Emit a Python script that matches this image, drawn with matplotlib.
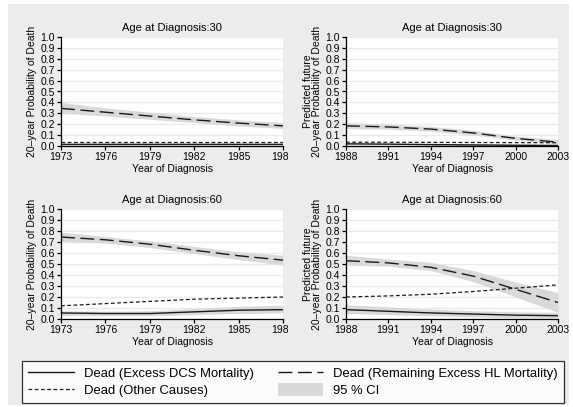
import numpy as np
import matplotlib
matplotlib.use('Agg')
import matplotlib.pyplot as plt
from matplotlib.patches import Rectangle, Patch
from matplotlib.lines import Line2D

plt.rcParams['font.family'] = ['Liberation Sans', 'DejaVu Sans']

# ===== data =====
years_early = [1973, 1976, 1979, 1982, 1985, 1988]
years_late = [1988, 1991, 1994, 1997, 2000, 2003]

# age 30, 1973-1988
hl30_e = [0.345, 0.310, 0.275, 0.240, 0.210, 0.185]
hl30_e_lo = [0.300, 0.275, 0.245, 0.215, 0.185, 0.160]
hl30_e_hi = [0.400, 0.350, 0.310, 0.270, 0.240, 0.215]
dcs30_e = [0.020, 0.020, 0.020, 0.020, 0.020, 0.020]
dcs30_e_lo = [0.012, 0.012, 0.012, 0.012, 0.012, 0.012]
dcs30_e_hi = [0.030, 0.030, 0.030, 0.030, 0.030, 0.030]
oth30_e = [0.035, 0.035, 0.035, 0.035, 0.035, 0.035]

# age 30, 1988-2003
hl30_l = [0.185, 0.175, 0.155, 0.120, 0.070, 0.035]
hl30_l_lo = [0.160, 0.155, 0.135, 0.100, 0.055, 0.020]
hl30_l_hi = [0.215, 0.200, 0.180, 0.145, 0.090, 0.060]
dcs30_l = [0.020, 0.017, 0.013, 0.010, 0.007, 0.005]
dcs30_l_lo = [0.012, 0.010, 0.007, 0.004, 0.002, 0.001]
dcs30_l_hi = [0.030, 0.026, 0.022, 0.018, 0.015, 0.014]
oth30_l = [0.035, 0.034, 0.033, 0.032, 0.031, 0.030]

# age 60, 1973-1988
hl60_e = [0.745, 0.720, 0.680, 0.625, 0.575, 0.535]
hl60_e_lo = [0.705, 0.690, 0.650, 0.595, 0.540, 0.490]
hl60_e_hi = [0.790, 0.750, 0.710, 0.660, 0.610, 0.580]
dcs60_e = [0.055, 0.050, 0.050, 0.065, 0.080, 0.085]
dcs60_e_lo = [0.030, 0.030, 0.030, 0.040, 0.050, 0.055]
dcs60_e_hi = [0.075, 0.070, 0.075, 0.095, 0.115, 0.125]
oth60_e = [0.120, 0.140, 0.160, 0.180, 0.190, 0.200]

# age 60, 1988-2003
hl60_l = [0.530, 0.510, 0.470, 0.390, 0.270, 0.150]
hl60_l_lo = [0.490, 0.480, 0.440, 0.340, 0.200, 0.060]
hl60_l_hi = [0.580, 0.545, 0.515, 0.440, 0.335, 0.240]
dcs60_l = [0.085, 0.070, 0.055, 0.045, 0.035, 0.030]
dcs60_l_lo = [0.050, 0.040, 0.030, 0.020, 0.012, 0.008]
dcs60_l_hi = [0.130, 0.110, 0.090, 0.075, 0.065, 0.060]
oth60_l = [0.200, 0.210, 0.225, 0.250, 0.280, 0.310]

titles = ['Age at Diagnosis:30', 'Age at Diagnosis:30',
          'Age at Diagnosis:60', 'Age at Diagnosis:60']
ylab_left = '20\u2013year Probability of Death'
ylab_right = 'Predicted future\n20\u2013year Probability of Death'

panels = [
    (years_early, hl30_e, hl30_e_lo, hl30_e_hi, dcs30_e, dcs30_e_lo, dcs30_e_hi, oth30_e),
    (years_late, hl30_l, hl30_l_lo, hl30_l_hi, dcs30_l, dcs30_l_lo, dcs30_l_hi, oth30_l),
    (years_early, hl60_e, hl60_e_lo, hl60_e_hi, dcs60_e, dcs60_e_lo, dcs60_e_hi, oth60_e),
    (years_late, hl60_l, hl60_l_lo, hl60_l_hi, dcs60_l, dcs60_l_lo, dcs60_l_hi, oth60_l),
]

# ===== styles =====
W, H = 573, 407
bg = '#ececec'
ci_col = '#d9d9d9'
grid_col = '#ebebeb'
line_col = '#1a1a1a'
hl_dash = (0, (10, 4))
oth_dash = (0, (3, 2))

fig = plt.figure(figsize=(W / 100, H / 100), dpi=100)
fig.patch.set_facecolor('white')
fig.patches.append(Rectangle((8 / W, 1 - 405 / H), 561 / W, 401 / H,
                             transform=fig.transFigure, facecolor=bg,
                             edgecolor='none', zorder=-10))
# right-hand graphs' background, drawn over the left graphs' tick labels
fig.patches.append(Rectangle((289 / W, 1 - 345 / H), 280 / W, 341 / H,
                             transform=fig.transFigure, facecolor=bg,
                             edgecolor='none', zorder=0.5))

# axes boxes in pixels: left, right, top, bottom
boxes = [(61, 283, 37, 146), (346, 558, 37, 146),
         (61, 283, 209, 319), (346, 558, 209, 319)]

for i, (box, data) in enumerate(zip(boxes, panels)):
    l, r, t, b = box
    ax = fig.add_axes([l / W, 1 - b / H, (r - l) / W, (b - t) / H],
                      zorder=0 if i % 2 == 0 else 1)
    x, hl, hl_lo, hl_hi, dcs, dcs_lo, dcs_hi, oth = data
    ax.set_facecolor('white')
    ax.fill_between(x, hl_lo, hl_hi, color=ci_col, lw=0, zorder=2)
    ax.fill_between(x, dcs_lo, dcs_hi, color=ci_col, lw=0, zorder=2)
    ax.plot(x, dcs, color=line_col, lw=1.0, zorder=3, solid_capstyle='butt')
    ax.plot(x, hl, color=line_col, lw=1.0, ls=hl_dash, zorder=3)
    ax.plot(x, oth, color=line_col, lw=0.9, ls=oth_dash, zorder=3)

    ax.set_xlim(x[0], x[-1])
    ax.set_ylim(0, 1)
    ax.set_xticks(x)
    ax.set_yticks(np.arange(0, 1.01, 0.1))
    ax.set_yticklabels([f'{v:.1f}' for v in np.arange(0, 1.01, 0.1)])
    ax.grid(axis='y', color=grid_col, lw=1.0, zorder=1)
    ax.set_axisbelow(True)
    for s in ['top', 'right']:
        ax.spines[s].set_visible(False)
    for s in ['left', 'bottom']:
        ax.spines[s].set_linewidth(0.9)
        ax.spines[s].set_zorder(4)
    ax.tick_params(direction='out', length=3, width=0.9, labelsize=7.5, pad=1.5)
    ax.set_title(titles[i], fontsize=8, pad=4)
    ax.set_xlabel('Year of Diagnosis', fontsize=7.5, labelpad=1)
    ax.set_ylabel(ylab_left if i % 2 == 0 else ylab_right, fontsize=7.5,
                  labelpad=2, linespacing=0.95)

# ===== legend =====
handles = [
    Line2D([], [], color=line_col, lw=1.0),
    Line2D([], [], color=line_col, lw=0.9, ls=oth_dash),
    Line2D([], [], color=line_col, lw=1.0, ls=hl_dash),
    Patch(facecolor=ci_col, edgecolor='none'),
]
labels = ['Dead (Excess DCS Mortality)', 'Dead (Other Causes)',
          'Dead (Remaining Excess HL Mortality)', '95 % CI']
leg = fig.legend(handles, labels, ncol=2, loc='lower left',
                 bbox_to_anchor=(22 / W, 1 - 403 / H),
                 fontsize=9.4, frameon=True, fancybox=False,
                 handlelength=3.5, handleheight=1.1, labelspacing=0.25,
                 borderpad=0.45, borderaxespad=0, columnspacing=1.85,
                 handletextpad=0.77)
leg.get_frame().set_edgecolor('black')
leg.get_frame().set_linewidth(0.9)
leg.set_zorder(5)

fig.savefig('out.png', dpi=100)
